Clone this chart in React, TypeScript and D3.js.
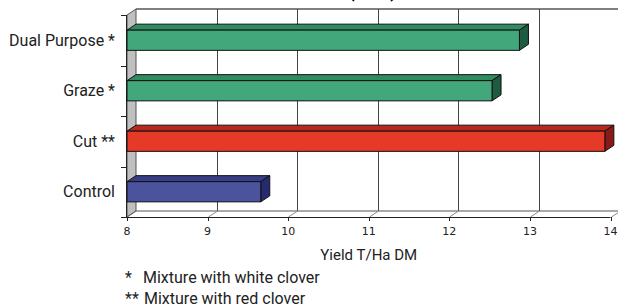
import React, { useRef, useEffect } from 'react';
import * as d3 from 'd3';

const categories = ['Dual Purpose *', 'Graze *', 'Cut **', 'Control'];
const yields = [12.87, 12.53, 13.93, 9.66];
const xTicks = [8, 9, 10, 11, 12, 13, 14];
const footnotes = [
  { mark: '*', text: 'Mixture with white clover' },
  { mark: '**', text: 'Mixture with red clover' },
];

// front / top / side shades per bar
const palette = [
  ['#42a87b', '#2f8b60', '#1d5c40'],
  ['#42a87b', '#2f8b60', '#1d5c40'],
  ['#e53a27', '#b9281c', '#8a1a17'],
  ['#4a539c', '#363e87', '#262b70'],
];

const W = 618;
const H = 307;

const Chart = () => {
  const ref = useRef<SVGSVGElement>(null);

  useEffect(() => {
    const svg = d3.select(ref.current);
    svg.selectAll('*').remove();

    const dx = 9;
    const dy = 6;
    const top = 15;
    const bottom = 217;
    const left = 127;
    const right = 610.5;

    const x = d3.scaleLinear().domain([8, 14]).range([left, right]);
    const y = d3.scaleBand<string>()
      .domain(categories)
      .range([top, bottom])
      .paddingInner(0.6)
      .paddingOuter(0.3);

    const font = 'Roboto, "Noto Sans", sans-serif';

    // title, mostly above the visible area (as in the source image)
    svg.append('text')
      .attr('x', 349).attr('y', -2)
      .attr('text-anchor', 'end')
      .attr('font-family', font).attr('font-weight', 700).attr('font-size', 16)
      .text('Yield ');
    svg.append('text')
      .attr('x', 349).attr('y', -2)
      .attr('font-family', font).attr('font-weight', 700).attr('font-size', 16)
      .text('(T/Ha)');

    // back wall
    svg.append('rect')
      .attr('x', left + dx).attr('y', top - dy)
      .attr('width', W - left - dx + 20).attr('height', bottom - top)
      .attr('fill', '#fff');
    svg.append('line')
      .attr('x1', left + dx).attr('x2', W + 5)
      .attr('y1', top - dy).attr('y2', top - dy)
      .attr('stroke', '#808080').attr('stroke-width', 2);
    svg.append('line')
      .attr('x1', left + dx).attr('x2', W + 5)
      .attr('y1', bottom - dy).attr('y2', bottom - dy)
      .attr('stroke', '#555').attr('stroke-width', 1);

    // gridlines on back wall + floor
    const grid = svg.append('g').attr('stroke', '#444').attr('stroke-width', 1);
    xTicks.slice(1).forEach(v => {
      const gx = Math.round(x(v)) + 0.5;
      grid.append('line')
        .attr('x1', gx + dx).attr('x2', gx + dx)
        .attr('y1', top - dy).attr('y2', bottom - dy);
      grid.append('line')
        .attr('x1', gx).attr('x2', gx + dx)
        .attr('y1', bottom).attr('y2', bottom - dy)
        .attr('stroke', '#888');
    });

    // left wall
    svg.append('path')
      .attr('d', `M${left},${top} L${left + dx},${top - dy} L${left + dx},${bottom - dy} L${left},${bottom} Z`)
      .attr('fill', '#c0c0c0')
      .attr('stroke', '#555').attr('stroke-width', 1);
    svg.append('line')
      .attr('x1', left).attr('x2', left + dx)
      .attr('y1', bottom).attr('y2', bottom - dy)
      .attr('stroke', '#666');

    // front floor edge (x axis)
    svg.append('line')
      .attr('x1', left).attr('x2', right)
      .attr('y1', bottom + 0.5).attr('y2', bottom + 0.5)
      .attr('stroke', '#222');

    const xAxis = svg.append('g');
    xTicks.forEach(v => {
      const tx = Math.round(x(v)) + 0.5;
      xAxis.append('line')
        .attr('x1', tx).attr('x2', tx)
        .attr('y1', bottom).attr('y2', bottom + 4)
        .attr('stroke', '#222');
      xAxis.append('text')
        .attr('x', x(v)).attr('y', 235)
        .attr('text-anchor', 'middle')
        .attr('font-family', '"DejaVu Sans", Verdana, sans-serif')
        .attr('font-size', 11)
        .attr('fill', '#222')
        .text(v);
    });

    // y axis line and ticks
    svg.append('line')
      .attr('x1', left - 0.5).attr('x2', left - 0.5)
      .attr('y1', top).attr('y2', bottom)
      .attr('stroke', '#222');
    const bounds = categories.map(c => y(c)! - y.step() * y.paddingInner() / 2);
    bounds.push(bottom);
    bounds[0] = top;
    bounds.forEach(b => {
      svg.append('line')
        .attr('x1', left - 6).attr('x2', left)
        .attr('y1', Math.round(b) + 0.5).attr('y2', Math.round(b) + 0.5)
        .attr('stroke', '#222');
    });

    // bars: top face, side face, front face
    const bars = svg.append('g').attr('stroke', '#111').attr('stroke-width', 1).attr('stroke-linejoin', 'round');
    categories.forEach((c, i) => {
      const x0 = x(8);
      const x1 = x(yields[i]);
      const y0 = y(c)!;
      const h = y.bandwidth();
      const [front, topC, side] = palette[i];
      bars.append('path')
        .attr('d', `M${x0},${y0} L${x0 + dx},${y0 - dy} L${x1 + dx},${y0 - dy} L${x1},${y0} Z`)
        .attr('fill', topC);
      bars.append('path')
        .attr('d', `M${x1},${y0} L${x1 + dx},${y0 - dy} L${x1 + dx},${y0 + h - dy} L${x1},${y0 + h} Z`)
        .attr('fill', side);
      bars.append('rect')
        .attr('x', x0).attr('y', y0)
        .attr('width', x1 - x0).attr('height', h)
        .attr('fill', front);
    });

    // category labels
    categories.forEach(c => {
      svg.append('text')
        .attr('x', 115).attr('y', y(c)! + y.bandwidth() / 2)
        .attr('dy', '0.35em')
        .attr('text-anchor', 'end')
        .attr('font-family', font).attr('font-size', 16)
        .attr('fill', '#222')
        .text(c);
    });

    // axis title
    svg.append('text')
      .attr('x', (left + right) / 2).attr('y', 260)
      .attr('text-anchor', 'middle')
      .attr('font-family', font).attr('font-size', 15)
      .attr('fill', '#222')
      .text('Yield T/Ha DM');

    // footnotes
    footnotes.forEach((f, i) => {
      const fy = 283 + i * 21;
      svg.append('text')
        .attr('x', 125).attr('y', fy)
        .attr('font-family', font).attr('font-size', 16).attr('fill', '#222')
        .text(f.mark);
      svg.append('text')
        .attr('x', i === 0 ? 143 : 144).attr('y', fy)
        .attr('font-family', font).attr('font-size', 16).attr('fill', '#222')
        .text(f.text);
    });
  }, []);

  return (
    <svg ref={ref} width={W} height={H}
      style={{ position: 'absolute', left: 0, top: 0, background: '#fff' }} />
  );
};

export default function App() {
  return <Chart />;
}
